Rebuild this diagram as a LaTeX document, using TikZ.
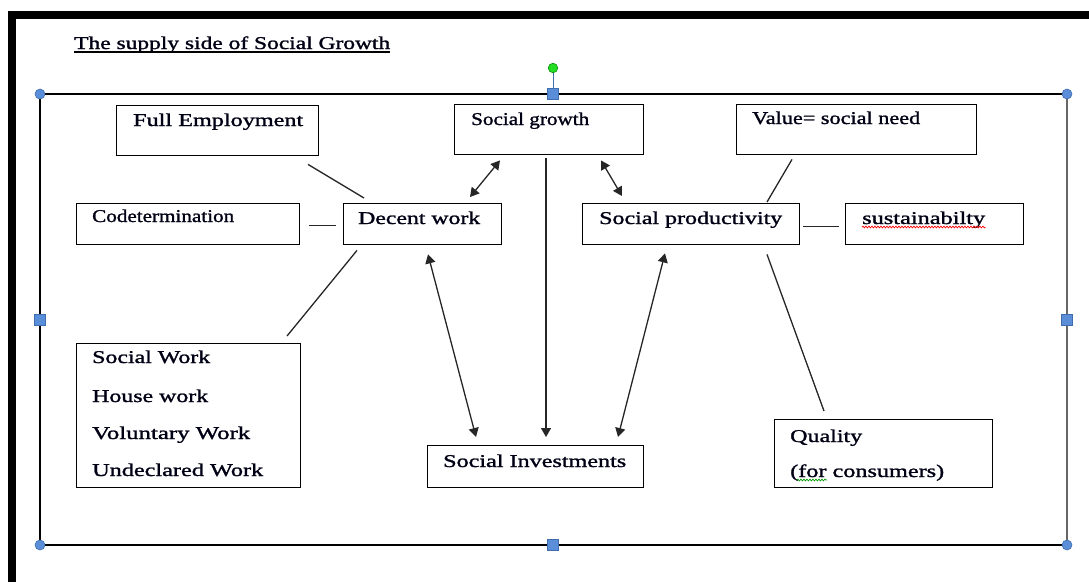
\documentclass[tikz,border=0pt]{standalone}
\usepackage{fontspec}
\setmainfont{Liberation Serif}
% slightly emboldened face for the box texts
\newfontfamily\heavyserif{Liberation Serif}[FakeBold=1.2]
\usetikzlibrary{arrows.meta,decorations.pathmorphing}
% stretch a label horizontally to a given width (in pt), keeping its height
\newcommand\fitw[2]{\resizebox{#1pt}{\height}{#2}}
\definecolor{handleblue}{HTML}{5B8ED8}
\definecolor{handleedge}{HTML}{3F6DB0}
\definecolor{rotgreen}{HTML}{22DD22}
\begin{document}
\begin{tikzpicture}[x=1pt,y=-1pt,
  box/.style={draw=black,line width=1.4pt,anchor=north west,inner sep=0pt,rectangle},
  lbl/.style={anchor=base west,inner sep=0pt,font=\heavyserif\fontsize{18}{20}\selectfont,text=black!92!blue},
  link/.style={draw=black!85,line width=1.3pt},
  tipend/.style={-{Triangle[length=9pt,width=10pt]}},
  tipboth/.style={{Triangle[length=9pt,width=10pt]}-{Triangle[length=9pt,width=10pt]}},
  squiggle/.style={decorate,decoration={snake,amplitude=0.9pt,segment length=3pt},line width=0.7pt},
  corner/.style={fill=handleblue,draw=handleedge,line width=0.6pt},
]
\useasboundingbox (0,0) rectangle (1089,582);

% heavy page frame
\fill[black] (8,11) rectangle (1089,19);
\fill[black] (8,11) rectangle (16,582);

% selection frame with handles
\draw[black,line width=1.8pt] (40,94) -- (1067,94);
\draw[black,line width=1.3pt] (40,94) -- (40,545) -- (1067,545);
\draw[black!60,line width=1.8pt] (1067,94) -- (1067,545);
\draw[handleedge,line width=1pt] (553,73) -- (553,89);
\fill[rotgreen,draw=green!50!black,line width=0.5pt] (553,68) circle (4.8);
\foreach \p in {(40,94),(1067,94),(40,545),(1067,545)}
  \path[corner] \p circle (5);
\foreach \p in {(553,94),(40,320),(1067,320),(553,545)}
  \path[corner] \p ++(-5.5,-5.5) rectangle ++(11,11);

% title
\node[lbl] (title) at (74,49) {\fitw{316}{The supply side of Social Growth}};
\draw[line width=1.3pt] ([yshift=-3]title.base west) -- ([yshift=-3]title.base east);

% boxes
\node[box,minimum width=202,minimum height=50] (fe)  at (116,105) {};
\node[box,minimum width=189,minimum height=50] (sg)  at (454,104) {};
\node[box,minimum width=240,minimum height=50] (val) at (736,104) {};
\node[box,minimum width=223,minimum height=41] (cod) at (76,203) {};
\node[box,minimum width=158,minimum height=41] (dw)  at (343,203) {};
\node[box,minimum width=217,minimum height=41] (sp)  at (582,203) {};
\node[box,minimum width=178,minimum height=41] (sus) at (845,203) {};
\node[box,minimum width=224,minimum height=144] (sw) at (76,343) {};
\node[box,minimum width=216,minimum height=42] (si)  at (427,445) {};
\node[box,minimum width=218,minimum height=68] (ql)  at (774,419) {};

% labels
\node[lbl] (fetxt)  at ([shift={(17,21)}]fe.north west)  {\fitw{170}{Full Employment}};
\node[lbl] (sgtxt)  at ([shift={(17,21)}]sg.north west)  {\fitw{118}{Social growth}};
\node[lbl] (valtxt) at ([shift={(16,20)}]val.north west) {\fitw{168}{Value= social need}};
\node[lbl] (codtxt) at ([shift={(16,19)}]cod.north west) {\fitw{142}{Codetermination}};
\node[lbl] (dwtxt)  at ([shift={(15,21)}]dw.north west)  {\fitw{122}{Decent work}};
\node[lbl] (sptxt)  at ([shift={(17,21)}]sp.north west)  {\fitw{183}{Social productivity}};
\node[lbl] (sustxt) at ([shift={(17,21)}]sus.north west) {\fitw{123}{sustainabilty}};
\node[lbl] (sw1) at ([shift={(16,20)}]sw.north west)  {\fitw{118}{Social Work}};
\node[lbl] (sw2) at ([shift={(16,59)}]sw.north west)  {\fitw{116}{House work}};
\node[lbl] (sw3) at ([shift={(16,96)}]sw.north west)  {\fitw{158}{Voluntary Work}};
\node[lbl] (sw4) at ([shift={(16,133)}]sw.north west) {\fitw{171}{Undeclared Work}};
\node[lbl] (sitxt) at ([shift={(16,22)}]si.north west) {\fitw{183}{Social Investments}};
\node[lbl] (ql1) at ([shift={(16,23)}]ql.north west) {\fitw{72}{Quality}};
\node[lbl] (ql2) at ([shift={(16,58)}]ql.north west) {\fitw{154}{(for consumers)}};

% spell-check marks
\draw[red,squiggle] ([yshift=-3]sustxt.base west) -- ([yshift=-3]sustxt.base east);
\draw[green!60!black,squiggle] ([shift={(7,3)}]ql2.base west) -- ([shift={(37,3)}]ql2.base west);

% connectors
\draw[link] ([shift={(192,8)}]fe.south west) -- ([shift={(21,-5)}]dw.north west);
\draw[link] ([shift={(9,1)}]cod.east) -- ([shift={(-7,1)}]dw.west);
\draw[link,tipboth] ([shift={(127,-6)}]dw.north west) -- ([shift={(46,5)}]sg.south west);
\draw[link,tipend] ([shift={(92,3)}]sg.south west) -- ([shift={(119,-8)}]si.north west);
\draw[link,tipboth] ([shift={(147,5)}]sg.south west) -- ([shift={(40,-7)}]sp.north west);
\draw[link] ([shift={(56,4)}]val.south west) -- ([shift={(185,-1)}]sp.north west);
\draw[link] ([shift={(3,2.5)}]sp.east) -- ([shift={(-6,2.5)}]sus.west);
\draw[link] ([shift={(14,5)}]dw.south west) -- ([shift={(211,-7)}]sw.north west);
\draw[link,tipboth] ([shift={(85,9)}]dw.south west) -- ([shift={(49,-8)}]si.north west);
\draw[link,tipboth] ([shift={(83,8)}]sp.south west) -- ([shift={(191,-8)}]si.north west);
\draw[link] ([shift={(185,9)}]sp.south west) -- ([shift={(50,-8)}]ql.north west);
\end{tikzpicture}
\end{document}
